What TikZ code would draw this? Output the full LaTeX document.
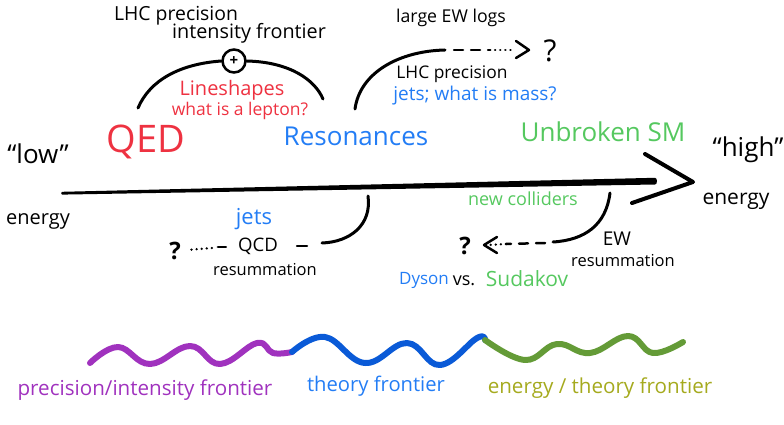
\documentclass[tikz,border=0pt]{standalone}
\usepackage{fontspec}
\setmainfont{Open Sans}
\usetikzlibrary{calc}
\definecolor{cred}{RGB}{238,50,65}
\definecolor{cblue}{RGB}{35,125,245}
\definecolor{cgreen}{RGB}{85,200,95}
\definecolor{cpurple}{RGB}{160,50,190}
\definecolor{wblue}{RGB}{10,90,215}
\definecolor{wgreen}{RGB}{100,155,55}
\definecolor{colive}{RGB}{165,170,30}
\newcommand{\fs}[1]{\fontsize{#1}{#1}\selectfont}
\tikzset{
  txt/.style={inner sep=0pt, font=\fs{19}},
  big/.style={inner sep=0pt, font=\fs{26}},
  qm/.style={inner sep=0pt, font=\fs{30}},
  qms/.style={inner sep=0pt, font=\fs{24}\bfseries},
  bot/.style={inner sep=0pt, font=\fs{20.6}},
  pen/.style={line width=3pt, line cap=round},
  dashpen/.style={line width=2.5pt, line cap=round, dash pattern=on 9pt off 8pt},
  dotpen/.style={line width=2.5pt, line cap=round, dash pattern=on 0.1pt off 5pt},
  wave/.style={line width=6pt, line cap=round, line join=round},
}
\begin{document}
\begin{tikzpicture}[x=1pt,y=-1pt]
\useasboundingbox (0,0) rectangle (784,425);

% main arrow
\fill (62,191.8) -- (655,177.8) to[out=0,in=0] (655,184.5) -- (62,194.6) to[out=180,in=180] cycle;
\coordinate (tip) at (693,182);
\coordinate (armU) at (645,154);
\coordinate (armL) at (632,203);
\draw[line width=4pt, line cap=round, line join=round] (armU) -- (tip) -- (armL);

% energy labels
\node[txt, font=\fs{26}] (low) at (38,154) {``low''};
\node[txt, font=\fs{20}] (en1) at (38,221) {energy};
\node[txt, font=\fs{26}] (high) at (748,150) {``high''};
\node[txt, font=\fs{21}] (en2) at (736,201) {energy};

% regimes
\node[big, text=cred, font=\fs{38}] (qed) at (146,142) {QED};
\node[big, text=cblue] (res) at (356,136) {Resonances};
\node[big, text=cgreen] (ubsm) at (603,132) {Unbroken SM};

% upper left
\node[txt, font=\fs{19.4}] (lhc1) at (176,16) {LHC precision};
\node[txt, font=\fs{19.8}] (int) at (249,33) {intensity frontier};
\node[circle, draw, line width=2.5pt, minimum size=23pt, inner sep=0pt, font=\bfseries\fs{15}] (plus) at (234,61) {+};
\node[txt, text=cred, font=\fs{20}] (lines) at (232,90) {Lineshapes};
\node[txt, text=cred, font=\fs{17.5}] (lepton) at (240,111) {what is a lepton?};
\coordinate (ul1) at (138,108);
\coordinate (ur1) at (323,99);
\draw[pen] (ul1) .. controls (150,80) and (180,64) .. (plus.west);
\draw[pen] (plus.east) .. controls (290,62) and (315,80) .. (ur1);

% upper right
\node[txt, font=\fs{17.7}] (ewlogs) at (451,18) {large EW logs};
\node[qm] (q1) at (550,51) {?};
\node[txt, font=\fs{17.4}] (lhc2) at (452,74) {LHC precision};
\node[txt, text=cblue, font=\fs{19}] (jetsmass) at (475,96) {jets; what is mass?};
\coordinate (a1) at (355,109);
\coordinate (a2) at (445,50);
\coordinate (a3) at (490,50);
\coordinate (a4) at (518,50);
\coordinate (a5) at (529,50);
\draw[pen] (a1) .. controls (360,72) and (400,51) .. (a2);
\draw[dashpen] ($(a2)+(9,0)$) -- (a3);
\draw[dotpen] (a3) -- ($(a4)+(-4,0)$);
\draw[line width=2.5pt, line cap=round, line join=round] (516,41) -- (a5) -- (516,58);

% lower left
\node[txt, text=cblue, font=\fs{22}] (jets) at (254,219) {jets};
\node[txt, font=\fs{18.6}] (qcd) at (258,246) {QCD};
\node[txt, font=\fs{16.5}] (res1) at (265,270) {resummation};
\node[qms] (q2) at (175,251) {?};
\coordinate (b1) at (368,196);
\coordinate (b2) at (322,243);
\draw[pen] (b1) .. controls (372,225) and (350,242) .. (b2);
\draw[line width=2.5pt, line cap=round] (307,246) -- (297,246);
\draw[line width=2.5pt, line cap=round] ($(qcd.west)+(-12,1)$) -- ($(qcd.west)+(-20,1)$);
\draw[dotpen] ($(qcd.west)+(-26,2)$) -- ($(q2.east)+(6,-1)$);

% lower right
\node[txt, text=cgreen, font=\fs{18}] (newcol) at (523,199) {new colliders};
\node[qms] (q3) at (465,246) {?};
\node[txt, font=\fs{19}] (ew) at (617,239) {EW};
\node[txt, font=\fs{16.5}] (res2) at (623,261) {resummation};
\node[txt, text=cblue, font=\fs{17}] (dyson) at (424,280) {Dyson};
\node[txt, font=\fs{18}] (vs) at (464,281) {vs.};
\node[txt, text=cgreen, font=\fs{21}] (sudakov) at (527,279) {Sudakov};
\coordinate (c1) at (610,193);
\coordinate (c2) at (553,242);
\coordinate (c3) at (506,244);
\coordinate (c4) at (484,245);
\draw[pen] (c1) .. controls (606,225) and (585,240) .. (c2);
\draw[dashpen] ($(c2)+(-8,1)$) -- (c3);
\draw[dotpen] (c3) -- ($(c4)+(4,0)$);
\draw[line width=2.5pt, line cap=round, line join=round] (497,237) -- (c4) -- (497,253);

% bottom waves
\coordinate (w0) at (90,363);
\coordinate (w1) at (292,352);
\coordinate (w2) at (485,340);
\coordinate (w3) at (683,342);
\draw[wave, cpurple] plot[smooth, tension=0.7] coordinates {(w0) (118,347) (150,364) (190,346) (220,364) (257,343) (273,353) (w1)};
\draw[wave, wblue] plot[smooth, tension=0.7] coordinates {(w1) (325,337) (365,363) (407,343) (440,365) (477,338) (w2)};
\draw[wave, wgreen] plot[smooth, tension=0.7] coordinates {(w2) (525,360) (557,344) (590,353) (628,336) (653,353) (w3)};

\node[bot, text=cpurple] (lab1) at (145,390) {precision/intensity frontier};
\node[bot, text=cblue, font=\fs{20.2}] (lab2) at (376,386) {theory frontier};
\node[bot, text=colive] (lab3) at (600,388) {energy / theory frontier};
\end{tikzpicture}
\end{document}
